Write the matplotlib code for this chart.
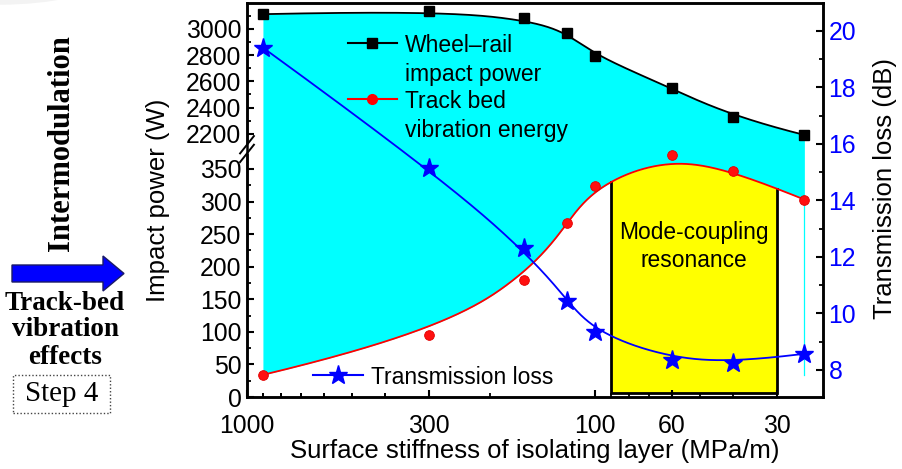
import numpy as np
import matplotlib
matplotlib.use("Agg")
import matplotlib.pyplot as plt
from matplotlib.patches import FancyArrow, Rectangle, Wedge
from matplotlib.lines import Line2D

# ---------------- data ----------------
stiffness = [900, 300, 160, 120, 100, 60, 40, 25]               # MPa/m
impact_power = [3111, 3138, 3081, 2970, 2796, 2547, 2328, 2192]  # W
bed_energy = [34, 95, 179, 267, 324, 372, 347, 303]              # W
trans_loss = [19.41, 15.14, 12.31, 10.45, 9.33, 8.35, 8.26, 8.57]  # dB

x_ticks = [1000, 300, 100, 60, 30]
x_ticklabels = ["1000", "300", "100", "60", "30"]
y_ticks_low = [0, 50, 100, 150, 200, 250, 300, 350]
y_ticks_high = [2200, 2400, 2600, 2800, 3000]
tl_ticks = [8, 10, 12, 14, 16, 18, 20]
resonance_band = (90, 30)

SANS = "Liberation Sans"
SERIF = "Liberation Serif"
plt.rcParams["font.family"] = [SANS, "DejaVu Sans"]

W, H = 903, 469
fig = plt.figure(figsize=(W / 100, H / 100), dpi=100)


def fx(px):
    return px / W


def fy(py):
    return 1 - py / H


# faint watermark arc
wm = Wedge((fx(0), fy(-95)), 192 / W, 180, 360, width=36 / W,
           transform=fig.transFigure, facecolor="#f3f3f3", edgecolor="none", zorder=0)
ax = fig.add_axes([fx(247), fy(397), (823 - 247) / W, (397 - 3) / H])
ax.set_zorder(2)

# ---------------- broken y scale ----------------
L, U, EPS = 380.0, 2087.0, 1.0
R = 0.1325 / 0.657


def fwd(y):
    y = np.asarray(y, float)
    return np.where(y <= L, y,
                    np.where(y >= U, L + EPS + (y - U) * R,
                             L + (y - L) / (U - L) * EPS))


def inv(z):
    z = np.asarray(z, float)
    return np.where(z <= L, z,
                    np.where(z >= L + EPS, U + (z - L - EPS) / R,
                             L + (z - L) / EPS * (U - L)))


ax.set_yscale("function", functions=(fwd, inv))
ax.set_xscale("log")
ax.set_xlim(1000, 22.1)
ax.set_ylim(0, 3196)


# ---------------- B-spline (Origin-style) ----------------
def bspline(cx, cy, n=1200, k=3):
    P = np.column_stack([cx, cy])
    m = len(P)
    knots = np.concatenate([np.zeros(k), np.linspace(0, 1, m - k + 1), np.ones(k)])
    t = np.linspace(0, 1, n)
    B = np.zeros((n, len(knots) - 1))
    for i in range(len(knots) - 1):
        B[:, i] = (t >= knots[i]) & (t < knots[i + 1])
    last = np.max(np.nonzero(knots[:-1] < knots[1:])[0])
    B[t >= 1, :] = 0
    B[t >= 1, last] = 1
    for d in range(1, k + 1):
        Bn = np.zeros((n, len(knots) - 1 - d))
        for i in range(len(knots) - 1 - d):
            a = knots[i + d] - knots[i]
            b = knots[i + d + 1] - knots[i + 1]
            term = np.zeros(n)
            if a > 0:
                term += (t - knots[i]) / a * B[:, i]
            if b > 0:
                term += (knots[i + d + 1] - t) / b * B[:, i + 1]
            Bn[:, i] = term
        B = Bn
    C = B @ P
    return C[:, 0], C[:, 1]


lx = np.log10(stiffness)
bx, by = bspline(lx, impact_power)
rx, ry = bspline(lx, bed_energy)
tx, ty = bspline(lx, trans_loss)
X = 10 ** bx
TX = 10 ** tx

# cyan area between the two curves
ax.fill_between(X, ry, by, color="#00ffff", lw=0, zorder=1)
ax.plot([stiffness[-1], stiffness[-1]], [bed_energy[-1], bed_energy[0]],
        color="#00ffff", lw=0.9, zorder=1)

# yellow mode-coupling band
lo, hi = resonance_band
mask = (X <= lo) & (X >= hi)
xs = np.concatenate([[lo], X[mask], [hi]])
rev = np.argsort(X)
r_lo = np.interp(lo, X[rev], ry[rev])
r_hi = np.interp(hi, X[rev], ry[rev])
ys = np.concatenate([[r_lo], ry[mask], [r_hi]])
ax.fill_between(xs, 6, ys, color="#ffff00", lw=0, zorder=1.5)
ax.plot([lo, lo, hi, hi], [r_lo, 6, 6, r_hi], color="black", lw=2.0, zorder=1.6,
        solid_joinstyle="miter")
ax.text(np.sqrt(lo * hi), 231, "Mode-coupling\nresonance", ha="center", va="center",
        fontsize=16.4, linespacing=1.25, zorder=3)

# curves and markers
ax.plot(X, by, color="black", lw=1.3, zorder=3)
ax.plot(stiffness, impact_power, ls="none", marker="s", ms=6.5, color="black", zorder=4)
ax.plot(X, ry, color="red", lw=1.3, zorder=3)
ax.plot(stiffness, bed_energy, ls="none", marker="o", ms=7, mfc="#ff1010",
        mec="#e00000", mew=0.6, zorder=4)

# axes styling
ax.set_xticks(x_ticks)
ax.set_xticklabels(x_ticklabels)
minors = [v * 10 ** e for e in (1, 2) for v in range(2, 10)] + [900, 800, 700, 600, 500, 400]
minors = [m for m in minors if m not in x_ticks and 22 <= m <= 1000]
ax.set_xticks(minors, minor=True)
ax.set_yticks(y_ticks_low + y_ticks_high)
ax.set_yticks([25, 75, 125, 175, 225, 275, 325, 375, 2300, 2500, 2700, 2900, 3100],
              minor=True)
ax.set_yticklabels([str(v) for v in y_ticks_low + y_ticks_high])
ax.tick_params(axis="both", which="major", direction="in", length=5, width=1.5,
               labelsize=17.8)
ax.tick_params(axis="both", which="minor", direction="in", length=3, width=1.3)
ax.tick_params(axis="x", which="both", pad=12)
ax.tick_params(axis="y", which="both", pad=4)
for s in ax.spines.values():
    s.set_linewidth(1.8)
ax.set_xlabel("Surface stiffness of isolating layer (MPa/m)", fontsize=18.5, labelpad=1)
ax.set_ylabel("Impact power (W)", fontsize=18.5)
ax.yaxis.set_label_coords(-0.133, 0.5)

# break marks on left spine
zb = (fwd(L) + EPS / 2) / fwd(3196)
ax.add_patch(Rectangle((-0.01, zb - 0.012), 0.02, 0.024, transform=ax.transAxes,
                       facecolor="white", edgecolor="none", clip_on=False, zorder=10))
for dy in (-0.011, 0.011):
    ax.plot([-0.012, 0.012], [zb + dy - 0.022, zb + dy + 0.022], transform=ax.transAxes,
            color="black", lw=1.4, clip_on=False, zorder=11)

# ---------------- right axis: transmission loss ----------------
ax2 = ax.twinx()
ax2.set_zorder(3)
ax2.patch.set_visible(False)
ax2.set_ylim(7.04, 20.99)
ax2.plot(TX, ty, color="#0000ff", lw=1.3, zorder=3)
ax2.plot(stiffness, trans_loss, ls="none", marker="*", ms=14, color="#0000ff", zorder=4)
ax2.set_yticks(tl_ticks)
ax2.set_yticks([9, 11, 13, 15, 17, 19], minor=True)
ax2.tick_params(axis="y", which="major", direction="in", length=5, width=1.5,
                labelsize=17.8, labelcolor="#0000ff", pad=4)
ax2.tick_params(axis="y", which="minor", direction="in", length=3, width=1.3)
for s in ax2.spines.values():
    s.set_linewidth(1.8)
ax2.set_ylabel("Transmission loss (dB)", fontsize=18.5)
ax2.yaxis.set_label_coords(1.087, 0.53)

# ---------------- legends (manual) ----------------
def legend_entry(x0, x1, y, color, marker, ms, lines, tx0, mfc=None):
    fig.add_artist(Line2D([fx(x0), fx(x1)], [fy(y), fy(y)], color=color, lw=1.5,
                          transform=fig.transFigure, zorder=20))
    fig.add_artist(Line2D([fx((x0 + x1) / 2)], [fy(y)], marker=marker, ms=ms,
                          color=color, mfc=mfc or color, transform=fig.transFigure,
                          zorder=21))
    for i, s in enumerate(lines):
        fig.text(fx(tx0), fy(y + 29 * i), s, fontsize=16.5, ha="left",
                 va="center_baseline", zorder=22)


legend_entry(348, 397, 43, "black", "s", 6.5, ["Wheel\u2013rail", "impact power"], 405)
legend_entry(348, 397, 99, "red", "o", 7, ["Track bed", "vibration energy"], 405)
legend_entry(313, 363, 375, "#0000ff", "*", 14, ["Transmission loss"], 371)

# ---------------- left annotations ----------------
fig.add_artist(wm)
fig.text(fx(62), fy(143), "Intermodulation", rotation=90, ha="center", va="center",
         fontsize=22, fontweight="bold", family=SERIF)
arrow = FancyArrow(fx(12), fy(273.5), fx(91), 0, width=17 / H, head_width=35 / H,
                   head_length=fx(21), length_includes_head=False,
                   transform=fig.transFigure, facecolor="#0000ff", edgecolor="#1a1a66",
                   lw=1.0)
fig.add_artist(arrow)
for i, s in enumerate(["Track-bed", "vibration", "effects"]):
    fig.text(fx(65), fy(303 + 27 * i), s, ha="center", va="center", fontsize=19.5,
             fontweight="bold", family=SERIF)
fig.add_artist(Rectangle((fx(13), fy(413)), fx(97), (413 - 375) / H,
                         transform=fig.transFigure, facecolor="none",
                         edgecolor="#444444", lw=1.0, ls=(0, (1, 1.5))))
fig.text(fx(62), fy(394), "Step 4", ha="center", va="center", fontsize=21, family=SERIF)

fig.savefig("out.png", dpi=100)
